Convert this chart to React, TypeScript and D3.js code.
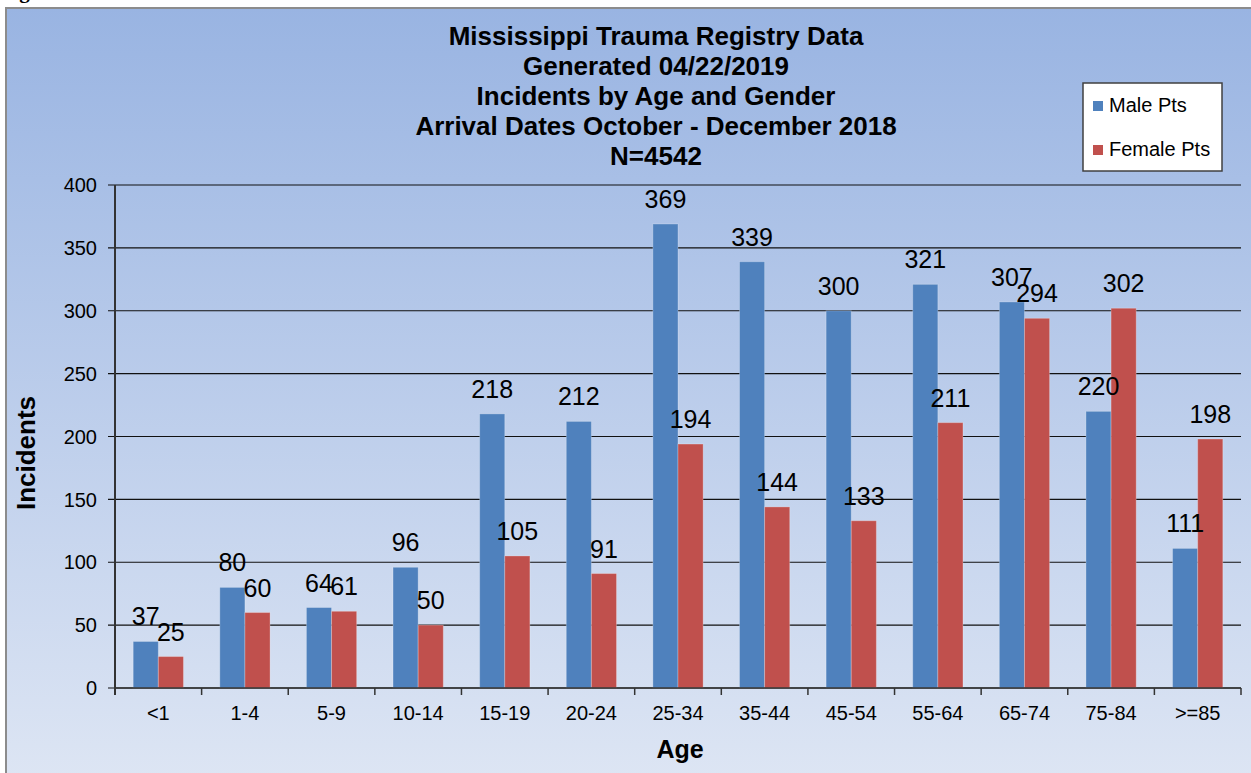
import * as d3 from "d3";

const ageGroups = ["<1", "1-4", "5-9", "10-14", "15-19", "20-24", "25-34", "35-44", "45-54", "55-64", "65-74", "75-84", ">=85"];
const malePts = [37, 80, 64, 96, 218, 212, 369, 339, 300, 321, 307, 220, 111];
const femalePts = [25, 60, 61, 50, 105, 91, 194, 144, 133, 211, 294, 302, 198];
const yTicks = [0, 50, 100, 150, 200, 250, 300, 350, 400];
const titleLines = [
  "Mississippi Trauma Registry Data",
  "Generated 04/22/2019",
  "Incidents by Age and Gender",
  "Arrival Dates October - December 2018",
  "N=4542",
];
const seriesNames = ["Male Pts", "Female Pts"];
const seriesColors = ["#4F81BD", "#C0504D"];

const W = 1251;
const H = 773;
const font = "'Liberation Sans', Arial, sans-serif";

export default function App() {
  const left = 115;
  const right = 1241;
  const top = 185;
  const bottom = 688;

  const x = d3.scaleBand<string>().domain(ageGroups).range([left, right]).paddingInner(0.42).paddingOuter(0.21);
  const inner = d3.scaleBand<string>().domain(seriesNames).range([0, x.bandwidth()]);
  const y = d3.scaleLinear().domain([0, 400]).range([bottom, top]);
  const step = x.step();

  const series = [malePts, femalePts];

  return (
    <div style={{ position: "fixed", left: 0, top: 0 }}>
      <svg width={W} height={H} style={{ display: "block", background: "#fff" }}>
        <defs>
          <linearGradient id="bg" x1="0" y1="0" x2="0" y2="1">
            <stop offset="0" stopColor="#99B4E2" />
            <stop offset="1" stopColor="#DEE6F4" />
          </linearGradient>
        </defs>
        {/* cut-off page heading above the chart */}
        <text x={4} y={-2} fontFamily="'Liberation Serif', serif" fontWeight="bold" fontSize={21}>
          Age and Gender
        </text>
        <rect x={6} y={8} width={W + 10} height={H + 10} fill="url(#bg)" stroke="#8C8C8C" strokeWidth={2} />

        {/* title */}
        {titleLines.map((t, i) => (
          <text key={t} x={656} y={45 + i * 30} textAnchor="middle" fontFamily={font} fontWeight="bold" fontSize={26}>
            {t}
          </text>
        ))}

        {/* gridlines + y ticks */}
        {yTicks.map((v) => (
          <g key={v}>
            <line x1={108} x2={right} y1={y(v)} y2={y(v)} stroke="#111" strokeWidth={1.2} />
            <text x={97} y={y(v)} dy="0.36em" textAnchor="end" fontFamily={font} fontSize={20}>
              {v}
            </text>
          </g>
        ))}

        {/* bars */}
        {series.map((vals, s) => (
          <g key={s} fill={seriesColors[s]}>
            {vals.map((v, i) => (
              <rect
                key={i}
                x={(x(ageGroups[i]) ?? 0) + (inner(seriesNames[s]) ?? 0)}
                y={y(v)}
                width={inner.bandwidth()}
                height={bottom - y(v)}
                stroke="rgba(255,255,255,0.25)"
                strokeWidth={1}
              />
            ))}
          </g>
        ))}

        {/* value labels */}
        {series.map((vals, s) =>
          vals.map((v, i) => (
            <text
              key={`${s}-${i}`}
              x={(x(ageGroups[i]) ?? 0) + (inner(seriesNames[s]) ?? 0) + inner.bandwidth() / 2}
              y={y(v) - 16}
              textAnchor="middle"
              fontFamily={font}
              fontSize={25}
            >
              {v}
            </text>
          ))
        )}

        {/* axes */}
        <line x1={left} x2={left} y1={top} y2={bottom + 7} stroke="#333" strokeWidth={2} />
        <line x1={left} x2={right} y1={bottom} y2={bottom} stroke="#333" strokeWidth={1.5} />
        {ageGroups.map((g, i) => (
          <g key={g}>
            <line x1={left + step * (i + 1)} x2={left + step * (i + 1)} y1={bottom} y2={bottom + 7} stroke="#333" strokeWidth={1.5} />
            <text x={(x(g) ?? 0) + x.bandwidth() / 2} y={720} textAnchor="middle" fontFamily={font} fontSize={20}>
              {g}
            </text>
          </g>
        ))}

        {/* axis titles */}
        <text x={680} y={758} textAnchor="middle" fontFamily={font} fontWeight="bold" fontSize={25}>
          Age
        </text>
        <text transform="translate(35,453) rotate(-90)" textAnchor="middle" fontFamily={font} fontWeight="bold" fontSize={26}>
          Incidents
        </text>

        {/* legend */}
        <rect x={1083} y={83} width={139} height={88} fill="#fff" stroke="#404040" strokeWidth={1.5} />
        {seriesNames.map((n, i) => (
          <g key={n}>
            <rect x={1093} y={101 + i * 44} width={10} height={10} fill={seriesColors[i]} />
            <text x={1109} y={112 + i * 44} fontFamily={font} fontSize={20}>
              {n}
            </text>
          </g>
        ))}
      </svg>
    </div>
  );
}
